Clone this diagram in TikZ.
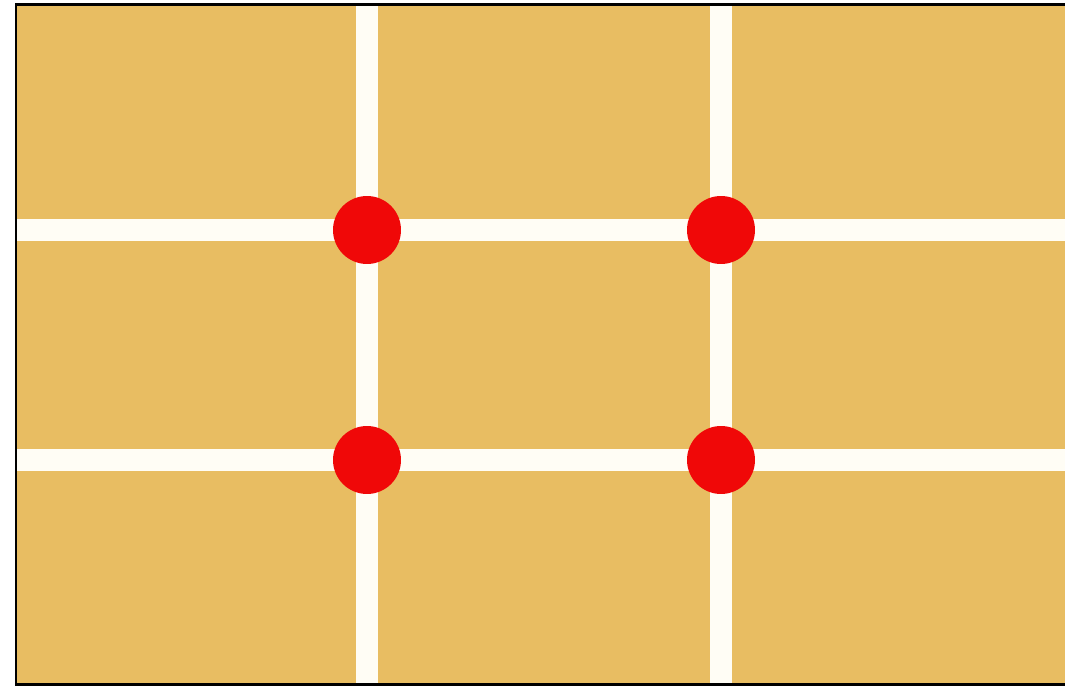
\documentclass[tikz,border=0pt]{standalone}
\definecolor{board}{RGB}{232,189,98}
\definecolor{gridline}{RGB}{255,253,245}
\definecolor{dotred}{RGB}{240,8,8}
\tikzset{
  thirds/.style={gridline, line width=0.44cm},
  power/.style={circle, fill=dotred, minimum size=1.36cm, inner sep=0pt}
}
\begin{document}
\begin{tikzpicture}[x=0.02cm,y=-0.02cm]
  \useasboundingbox (0,0) rectangle (1065,688);
  \fill[white] (0,0) rectangle (1065,688);
  \fill[board] (16,5) rectangle (1065,685);
  % lines of thirds
  \draw[thirds] (367,5) -- (367,685);
  \draw[thirds] (721,5) -- (721,685);
  \draw[thirds] (16,230) -- (1065,230);
  \draw[thirds] (16,460) -- (1065,460);
  % frame, open on the right
  \draw[black, line width=0.06cm] (1065,5) -- (16,5) -- (16,685) -- (1065,685);
  % power points
  \node[power] (ul) at (367,230) {};
  \node[power] (ur) at (721,230) {};
  \node[power] (ll) at (367,460) {};
  \node[power] (lr) at (721,460) {};
\end{tikzpicture}
\end{document}
